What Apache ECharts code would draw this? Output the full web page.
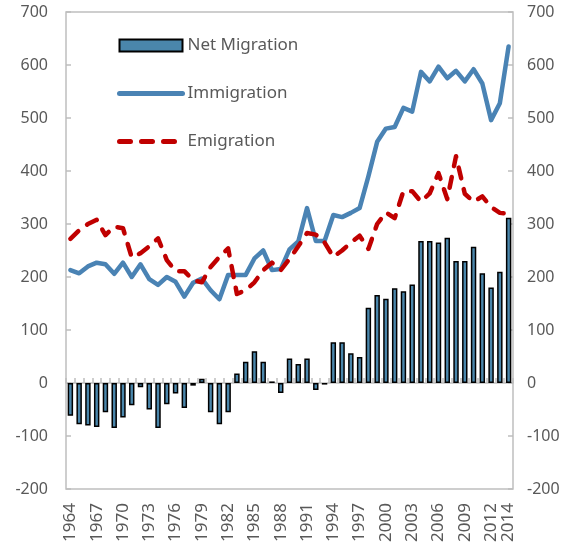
<!DOCTYPE html>
<html>
<head>
<meta charset="utf-8">
<script src="https://cdn.jsdelivr.net/npm/echarts@6/dist/echarts.min.js"></script>
<style>
  html, body { margin: 0; padding: 0; background: #fff; }
  #main { width: 572px; height: 545px; }
</style>
</head>
<body>
<div id="main"></div>
<script>
// years 1964 - 2014
var years = []
for (var y = 1964; y <= 2014; y++) years.push(String(y))

var netMigration = [
  -62, -78, -80, -83, -55, -85, -65, -42, -8, -50,
  -85, -40, -20, -47, -5, 8, -55, -78, -55, 18,
  40, 60, 40, 3, -19, 46, 36, 46, -13, -3,
  77, 77, 56, 49, 142, 166, 159, 179, 173, 186,
  268, 268, 265, 274, 230, 230, 257, 207, 180, 210,
  312
]
var immigration = [
  213, 207, 220, 227, 224, 206, 227, 200, 224, 196,
  185, 200, 191, 163, 189, 197, 175, 158, 204, 204,
  204, 235, 250, 213, 215, 252, 267, 330, 268, 268,
  317, 313, 321, 330, 390, 455, 480, 483, 519, 512,
  587, 569, 597, 575, 589, 569, 592, 565, 496, 528,
  635
]
var emigration = [
  272, 288, 300, 308, 279, 295, 292, 237, 245, 258,
  273, 232, 211, 211, 194, 190, 219, 238, 254, 168,
  175, 190, 213, 227, 213, 234, 258, 283, 280, 265,
  238, 250, 265, 278, 253, 300, 322, 311, 362, 362,
  342, 358, 396, 347, 428, 357, 342, 352, 332, 321,
  319
]

var textColor = '#595959'
var frameColor = '#bfbfbf'
var font = 'Noto Sans'
var blue = '#4a83b4'
var red = '#c00000'

var chart = echarts.init(document.getElementById('main'))

var valueAxis = function(pos, margin) {
  return {
    type: 'value',
    position: pos,
    min: -200,
    max: 700,
    interval: 100,
    axisLine: { show: false },
    axisTick: { show: true, inside: true, length: 5, lineStyle: { color: frameColor, width: 1.5 } },
    splitLine: { show: false },
    axisLabel: { color: textColor, fontSize: 16, fontFamily: font, margin: margin }
  }
}

chart.setOption({
  animation: false,
  grid: {
    left: 66, right: 59, top: 12, bottom: 56,
    show: true, borderColor: frameColor, borderWidth: 1.5
  },
  legend: {
    orient: 'vertical',
    left: 112,
    top: 32,
    itemWidth: 63,
    itemHeight: 12,
    itemGap: 31,
    data: [
      { name: 'Net Migration', icon: 'rect' },
      { name: 'Immigration', itemStyle: { opacity: 0 }, lineStyle: { width: 5 } },
      { name: 'Emigration', itemStyle: { opacity: 0 }, lineStyle: { width: 5 } }
    ],
    textStyle: { color: textColor, fontSize: 17, fontFamily: font }
  },
  xAxis: [
    {
      type: 'category',
      data: years,
      position: 'bottom',
      axisLine: { show: false, onZero: false },
      axisTick: { show: false },
      axisLabel: {
        rotate: 90,
        margin: 14,
        color: textColor,
        fontSize: 17,
        fontFamily: font,
        interval: function(i) { return i % 3 === 0 || i === years.length - 1 }
      }
    },
    {
      type: 'category',
      data: years,
      position: 'bottom',
      axisLine: { show: true, onZero: true, lineStyle: { color: frameColor, width: 1.5 } },
      axisTick: { show: true, inside: true, length: 5, interval: 0, lineStyle: { color: frameColor, width: 1.5 } },
      axisLabel: { show: false }
    }
  ],
  yAxis: [valueAxis('left', 18), valueAxis('right', 14)],
  series: [
    {
      name: 'Net Migration',
      type: 'bar',
      xAxisIndex: 0,
      yAxisIndex: 0,
      data: netMigration,
      barWidth: '62%',
      itemStyle: { color: '#4a86ab', borderColor: '#000', borderWidth: 1.5 }
    },
    {
      name: 'Immigration',
      type: 'line',
      xAxisIndex: 0,
      yAxisIndex: 0,
      data: immigration,
      symbol: 'none',
      itemStyle: { color: blue },
      lineStyle: { color: blue, width: 4.5, cap: 'round', join: 'round' }
    },
    {
      name: 'Emigration',
      type: 'line',
      xAxisIndex: 0,
      yAxisIndex: 0,
      data: emigration,
      symbol: 'none',
      itemStyle: { color: red },
      lineStyle: { color: red, width: 4.5, type: [11, 11], cap: 'round', join: 'round' }
    }
  ]
})
</script>
</body>
</html>
